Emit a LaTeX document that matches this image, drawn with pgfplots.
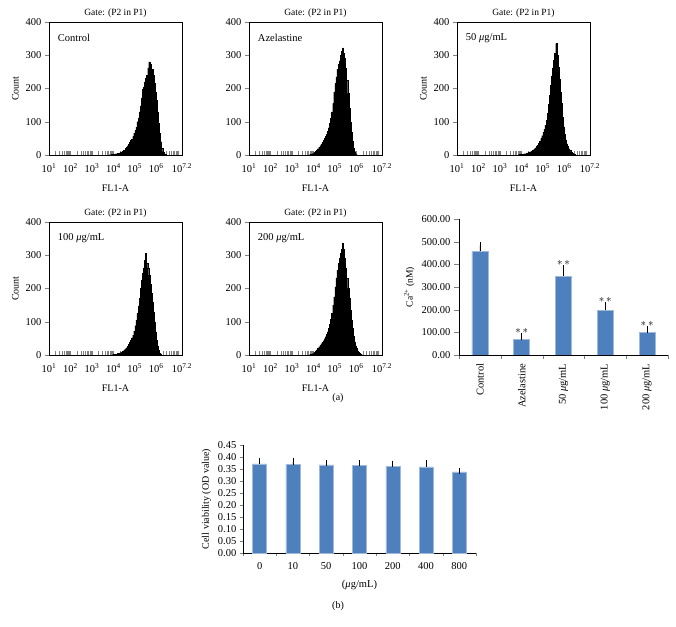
\documentclass[border=0pt]{standalone}
\usepackage{fontspec}
\setmainfont{Liberation Serif}
\usepackage{pgfplots}
\pgfplotsset{compat=1.18}
\definecolor{barblue}{RGB}{79,128,190}
\tikzset{inlabel/.style={anchor=west, font=\fontsize{10.5}{12}\selectfont}}
\pgfplotsset{
  every axis/.append style={font=\fontsize{10.5}{12}\selectfont, /pgf/number format/assume math mode=true, line width=0.6pt},
  hist/.style={
    anchor=south west, scale only axis, width=133pt, height=133pt,
    xmin=1, xmax=7.2, ymin=0, ymax=400,
    xtick={1,2,3,4,5,6,7.2},
    xticklabels={10\textsuperscript{1},10\textsuperscript{2},10\textsuperscript{3},10\textsuperscript{4},10\textsuperscript{5},10\textsuperscript{6},10\textsuperscript{7.2}},
    minor xtick={1.301,1.477,1.602,1.699,1.778,1.845,1.903,1.954,
                 2.301,2.477,2.602,2.699,2.778,2.845,2.903,2.954,
                 3.301,3.477,3.602,3.699,3.778,3.845,3.903,3.954,
                 4.301,4.477,4.602,4.699,4.778,4.845,4.903,4.954,
                 5.301,5.477,5.602,5.699,5.778,5.845,5.903,5.954,
                 6.301,6.477,6.602,6.699,6.778,6.845,6.903,6.954,7},
    ytick={0,100,200,300,400},
    xtick pos=bottom, ytick pos=left,
    xtick align=inside, ytick align=outside,
    major tick length=4pt, minor tick length=3.5pt,
    xticklabel style={yshift=-5pt},
    title={Gate: (P2 in P1)},
    title style={font=\fontsize{9.5}{11}\selectfont, yshift=-5pt},
    xlabel={FL1-A}, ylabel={Count},
    xlabel style={font=\fontsize{10}{12}\selectfont, yshift=-5pt},
    ylabel style={font=\fontsize{10}{12}\selectfont},
    axis line style={line width=0.6pt},
  },
  histplot/.style={fill=black, draw=black, line width=0.3pt, const plot mark left},
}
\begin{document}
\begin{tikzpicture}
\path[use as bounding box] (0,0) rectangle (676pt,626pt);

% Panel 1: Control
\begin{axis}[hist, at={(49pt,471pt)}]
\addplot[histplot] coordinates {
(3.80,1)(3.85,0)(3.90,2)(3.95,1)(4.00,3)(4.05,2)(4.10,4)(4.15,3)(4.20,6)(4.25,5)
(4.30,8)(4.35,7)(4.40,12)(4.45,15)(4.50,14)(4.55,20)(4.60,24)(4.65,28)(4.70,33)(4.75,38)
(4.80,45)(4.85,48)(4.90,56)(4.95,66)(5.00,75)(5.05,84)(5.10,100)(5.15,112)(5.20,130)(5.25,148)
(5.30,172)(5.35,198)(5.40,205)(5.45,220)(5.50,232)(5.55,240)(5.60,262)(5.65,280)(5.70,272)(5.75,255)
(5.80,258)(5.85,240)(5.90,215)(5.95,190)(6.00,165)(6.05,130)(6.10,95)(6.15,65)(6.20,40)(6.25,20)
(6.30,10)(6.35,4)(6.40,2)(6.45,1)(6.50,0)} \closedcycle;
\node[inlabel] at (rel axis cs:0.04,0.88) {Control};
\end{axis}

% Panel 2: Azelastine
\begin{axis}[hist, at={(249pt,471pt)}, ylabel={}]
\addplot[histplot] coordinates {
(3.80,1)(3.85,2)(3.90,3)(3.95,4)(4.00,6)(4.05,8)(4.10,12)(4.15,15)(4.20,19)(4.25,24)
(4.30,28)(4.35,33)(4.40,38)(4.45,44)(4.50,50)(4.55,56)(4.60,63)(4.65,72)(4.70,82)(4.75,95)
(4.80,110)(4.85,130)(4.90,155)(4.95,190)(5.00,215)(5.05,235)(5.10,258)(5.15,272)(5.20,283)(5.25,300)
(5.30,312)(5.35,322)(5.40,305)(5.45,290)(5.50,260)(5.55,225)(5.60,185)(5.65,140)(5.70,100)(5.75,70)
(5.80,42)(5.85,20)(5.90,8)(5.95,3)(6.00,1)(6.05,0)} \closedcycle;
\node[inlabel] at (rel axis cs:0.04,0.88) {Azelastine};
\end{axis}

% Panel 3: 50 ug/mL
\begin{axis}[hist, at={(457pt,471pt)}]
\addplot[histplot] coordinates {
(3.85,1)(3.90,2)(3.95,1)(4.00,3)(4.05,2)(4.10,4)(4.15,3)(4.20,5)(4.25,6)
(4.30,8)(4.35,7)(4.40,10)(4.45,12)(4.50,14)(4.55,16)(4.60,19)(4.65,22)(4.70,26)(4.75,30)
(4.80,35)(4.85,42)(4.90,50)(4.95,58)(5.00,68)(5.05,78)(5.10,90)(5.15,105)(5.20,125)(5.25,152)
(5.30,180)(5.35,210)(5.40,238)(5.45,262)(5.50,285)(5.55,305)(5.60,335)(5.65,300)(5.70,265)(5.75,228)
(5.80,190)(5.85,155)(5.90,115)(5.95,85)(6.00,62)(6.05,46)(6.10,34)(6.15,26)(6.20,19)(6.25,14)
(6.30,10)(6.35,7)(6.40,4)(6.45,2)(6.50,0)} \closedcycle;
\node[inlabel] at (rel axis cs:0.04,0.88) {50 \textit{μ}g/mL};
\end{axis}

% Panel 4: 100 ug/mL
\begin{axis}[hist, at={(49pt,271pt)}]
\addplot[histplot] coordinates {
(3.95,1)(4.00,2)(4.05,1)(4.10,3)(4.15,3)(4.20,5)(4.25,6)
(4.30,7)(4.35,9)(4.40,11)(4.45,13)(4.50,16)(4.55,19)(4.60,22)(4.65,27)(4.70,32)(4.75,38)
(4.80,45)(4.85,52)(4.90,60)(4.95,72)(5.00,88)(5.05,105)(5.10,125)(5.15,148)(5.20,170)(5.25,200)
(5.30,225)(5.35,245)(5.40,262)(5.45,285)(5.50,306)(5.55,275)(5.60,262)(5.65,240)(5.70,212)(5.75,185)
(5.80,160)(5.85,130)(5.90,100)(5.95,70)(6.00,45)(6.05,28)(6.10,14)(6.15,6)(6.20,2)(6.25,0)} \closedcycle;
\node[inlabel] at (rel axis cs:0.04,0.88) {100 \textit{μ}g/mL};
\end{axis}

% Panel 5: 200 ug/mL
\begin{axis}[hist, at={(249pt,271pt)}, ylabel={}]
\addplot[histplot] coordinates {
(3.80,1)(3.85,2)(3.90,3)(3.95,4)(4.00,6)(4.05,9)(4.10,13)(4.15,16)(4.20,20)(4.25,25)
(4.30,29)(4.35,34)(4.40,38)(4.45,43)(4.50,49)(4.55,55)(4.60,62)(4.65,70)(4.70,80)(4.75,92)
(4.80,108)(4.85,125)(4.90,150)(4.95,175)(5.00,205)(5.05,232)(5.10,255)(5.15,275)(5.20,290)(5.25,305)
(5.30,318)(5.35,335)(5.40,318)(5.45,290)(5.50,262)(5.55,230)(5.60,200)(5.65,170)(5.70,135)(5.75,105)
(5.80,80)(5.85,58)(5.90,40)(5.95,28)(6.00,20)(6.05,13)(6.10,9)(6.15,5)(6.20,3)(6.25,1)(6.30,0)} \closedcycle;
\node[inlabel] at (rel axis cs:0.04,0.88) {200 \textit{μ}g/mL};
\end{axis}

% Bar chart (a)
\begin{axis}[anchor=south west, at={(459pt,271pt)}, scale only axis, width=209pt, height=136pt,
  xmin=-0.5, xmax=4.5, ymin=0, ymax=600,
  ytick={0,100,200,300,400,500,600},
  y tick label style={/pgf/number format/.cd, fixed, fixed zerofill, precision=2, /tikz/.cd},
  axis x line*=bottom, axis y line*=left, axis line style={-},
  xtick={0,1,2,3,4},
  xticklabels={Control, Azelastine, 50 \textit{μ}g/mL, 100 \textit{μ}g/mL, 200 \textit{μ}g/mL},
  xticklabel style={rotate=90, anchor=east},
  major x tick style={draw=none},
  minor xtick={-0.5,0.5,1.5,2.5,3.5,4.5},
  tick align=outside, major tick length=5pt, minor tick length=4pt,
  ylabel={Ca\textsuperscript{2+} (nM)},
  ylabel style={font=\fontsize{9.5}{11}\selectfont},
]
\addplot[ybar, bar width=16pt, fill=barblue, draw=barblue!55!white, line width=0.5pt,
  error bars/.cd, y dir=plus, y explicit,
  error bar style={black, line width=0.6pt},
  error mark options={black, mark size=3pt, line width=0.6pt}]
  coordinates {(0,457) +- (0,27) (1,68) +- (0,15) (2,348) +- (0,35) (3,197) +- (0,23) (4,99) +- (0,15)};
\addplot[draw=none, nodes near coords={$\ast\,\ast$}, nodes near coords align={above},
  every node near coord/.append style={inner sep=1pt, yshift=1pt}]
  coordinates {(1,83) (2,383) (3,220) (4,114)};
\end{axis}

% Bar chart (b)
\begin{axis}[anchor=south west, at={(243pt,73pt)}, scale only axis, width=233pt, height=108pt,
  xmin=-0.5, xmax=6.5, ymin=0, ymax=0.45,
  ytick={0,0.05,0.1,0.15,0.2,0.25,0.3,0.35,0.4,0.45},
  y tick label style={/pgf/number format/.cd, fixed, fixed zerofill, precision=2, /tikz/.cd},
  axis x line*=bottom, axis y line*=left, axis line style={-},
  xtick={0,1,2,3,4,5,6},
  xticklabels={0,10,50,100,200,400,800},
  xticklabel style={yshift=-3pt},
  major x tick style={draw=none},
  minor xtick={-0.5,0.5,1.5,2.5,3.5,4.5,5.5,6.5},
  tick align=outside, major tick length=3pt, minor tick length=3pt,
  ylabel={Cell viability (OD value)},
  ylabel style={font=\fontsize{10}{12}\selectfont},
  xlabel={(\textit{μ}g/mL)},
  xlabel style={yshift=-4pt},
]
\addplot[ybar, bar width=14pt, fill=barblue, draw=barblue!55!white, line width=0.5pt,
  error bars/.cd, y dir=plus, y explicit,
  error bar style={black, line width=0.6pt},
  error mark options={black, mark size=3pt, line width=0.6pt}]
  coordinates {(0,0.371) +- (0,0.011) (1,0.368) +- (0,0.014) (2,0.367) +- (0,0.007)
               (3,0.364) +- (0,0.010) (4,0.361) +- (0,0.011) (5,0.359) +- (0,0.016) (6,0.338) +- (0,0.005)};
\end{axis}

\node[font=\fontsize{10}{12}\selectfont] at (338pt,228pt) {(a)};
\node[font=\fontsize{10}{12}\selectfont] at (338pt,20pt) {(b)};
\end{tikzpicture}
\end{document}
